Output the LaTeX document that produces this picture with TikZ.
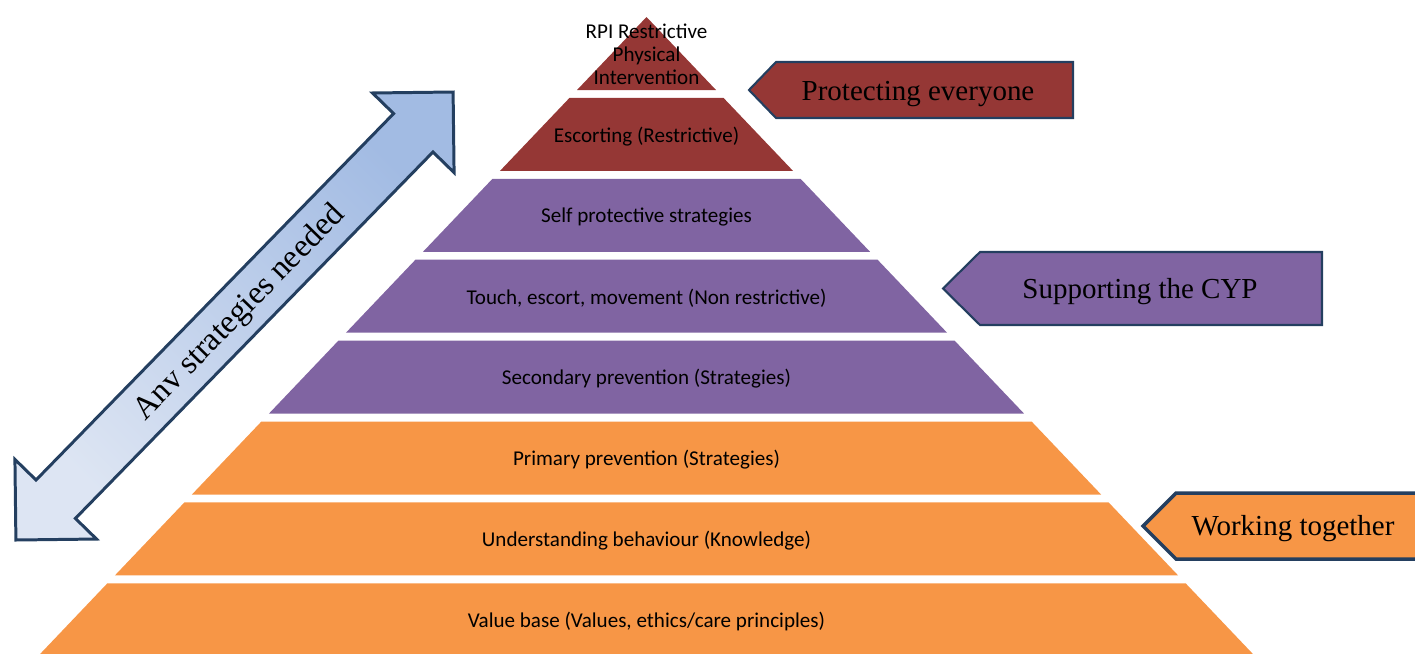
\documentclass[tikz,border=0pt]{standalone}
\usepackage{fontspec}
\setmainfont{Carlito}
\newfontfamily\tnr{Liberation Serif}
\definecolor{pyrRed}{HTML}{953735}
\definecolor{pyrPurple}{HTML}{8064A2}
\definecolor{pyrOrange}{HTML}{F79646}
\definecolor{navy}{HTML}{243F60}
\definecolor{arrLight}{HTML}{DDE5F3}
\definecolor{arrDark}{HTML}{A2BBE3}
\begin{document}
\begin{tikzpicture}[x=0.02cm,y=0.02cm,
  layertext/.style={font=\fontsize{12}{13}\selectfont, text=black, align=center, inner sep=0pt},
  tagtext/.style={font=\tnr\fontsize{16.5}{18}\selectfont, text=black, inner sep=0pt},
  tagbox/.style={draw=navy, line width=1.2pt, line join=miter}
]
\useasboundingbox (0,0) rectangle (1415,-653);
\clip (0,0) rectangle (1415,-653);

% pyramid layers
\foreach \i/\col/\txt in {
  0/pyrRed/{RPI Restrictive\\Physical\\Intervention},
  1/pyrRed/{Escorting (Restrictive)},
  2/pyrPurple/{Self protective strategies},
  3/pyrPurple/{Touch, escort, movement (Non restrictive)},
  4/pyrPurple/{Secondary prevention (Strategies)},
  5/pyrOrange/{Primary prevention (Strategies)},
  6/pyrOrange/{Understanding behaviour (Knowledge)},
  7/pyrOrange/{Value base (Values, ethics/care principles)}} {
  \pgfmathsetmacro\yt{(\i==0)?17:17+80.9*\i}
  \pgfmathsetmacro\yb{90+80.9*\i}
  \pgfmathsetmacro\wt{0.952*(\yt-17)}
  \pgfmathsetmacro\wb{0.952*(\yb-17)}
  \pgfmathsetmacro\yc{(\i==0)?54.5:(\yt+\yb)/2+1.8}
  \fill[\col] ({646.5-\wt},{-\yt}) -- ({646.5+\wt},{-\yt}) -- ({646.5+\wb},{-\yb}) -- ({646.5-\wb},{-\yb}) -- cycle;
  \node[layertext] (L\i) at (646.5,{-\yc}) {\txt};
}

% right tags
\fill[pyrRed] (749,-90) -- (776,-62) -- (1073,-62) -- (1073,-118) -- (776,-118) -- cycle;
\draw[tagbox] (749,-90) -- (776,-62) -- (1073,-62) -- (1073,-118) -- (776,-118) -- cycle;
\node[tagtext] (tagA) at (918,-94.5) {Protecting everyone};

\fill[pyrPurple] (943,-288.5) -- (980,-252) -- (1322,-252) -- (1322,-325) -- (980,-325) -- cycle;
\draw[tagbox] (943,-288.5) -- (980,-252) -- (1322,-252) -- (1322,-325) -- (980,-325) -- cycle;
\node[tagtext] (tagB) at (1140,-292) {Supporting the CYP};

\fill[pyrOrange] (1143,-526) -- (1176,-493) -- (1430,-493) -- (1430,-559) -- (1176,-559) -- cycle;
\draw[tagbox, line width=2pt] (1143,-526) -- (1176,-493) -- (1430,-493) -- (1430,-559) -- (1176,-559) -- cycle;
\node[tagtext] (tagC) at (1293,-528.5) {Working together};

% double arrow
\begin{scope}[shift={(234.5,-316)}, rotate=45.7]
  \draw[navy, line width=1.7pt, line join=miter, top color=arrDark, bottom color=arrLight, shading angle=-45]
    (313,0) -- (256,57) -- (256,27.5) -- (-256,27.5) -- (-256,57) -- (-313,0)
    -- (-256,-57) -- (-256,-27.5) -- (256,-27.5) -- (256,-57) -- cycle;
  \node[font=\tnr\fontsize{18.5}{20}\selectfont, text=black, inner sep=0pt, rotate=45.7] (arrtext) at (6,-2) {Anv strategies needed};
\end{scope}
\end{tikzpicture}
\end{document}
